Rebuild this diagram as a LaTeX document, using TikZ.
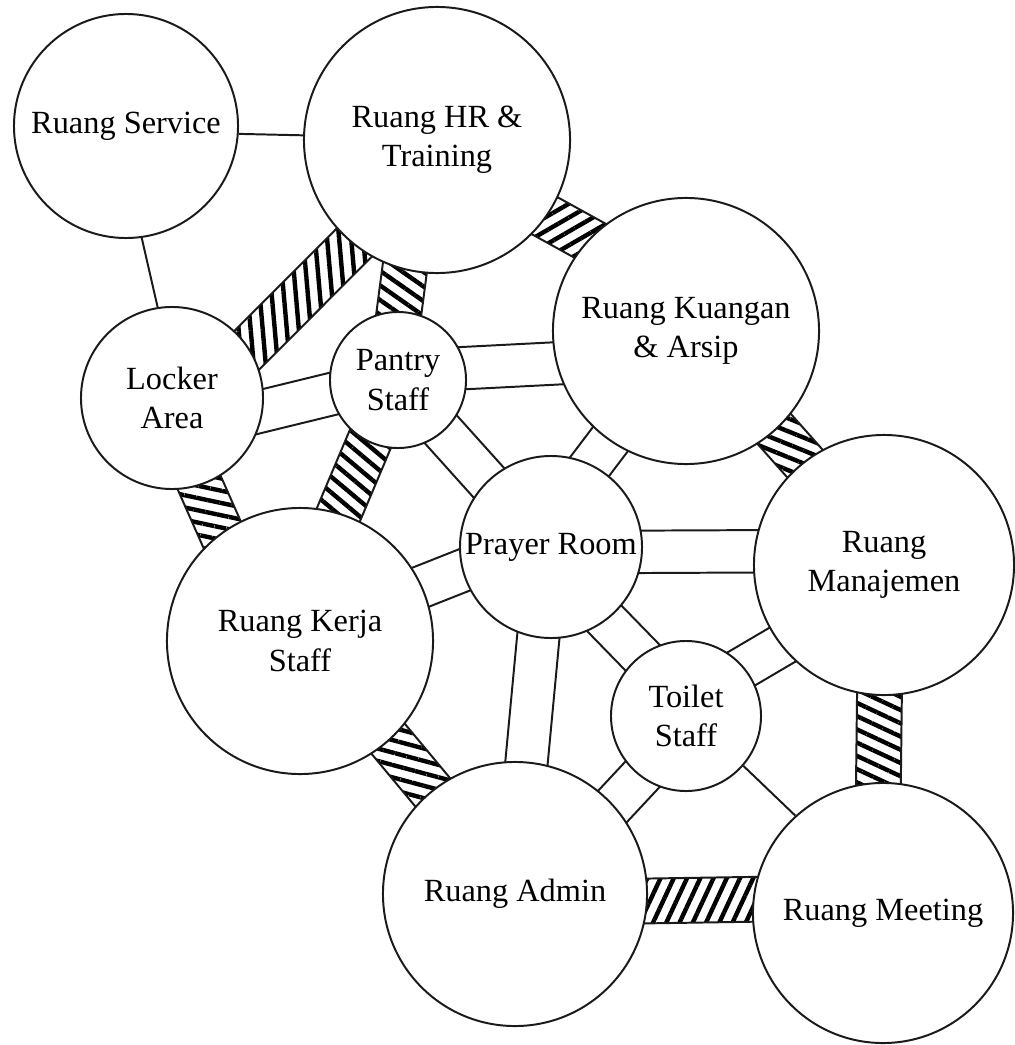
\documentclass[tikz,border=0pt]{standalone}
\usepackage{fontspec}
\setmainfont{Liberation Serif}
\usepackage{tikz}
\usetikzlibrary{calc,backgrounds,patterns.meta}
\definecolor{InkLine}{HTML}{1A1A1A}
\newcommand{\roomfont}{\fontsize{23}{28}\selectfont}
\newcommand{\openband}[2]{%
    \path ($(#1)!-14pt!(#2)$) coordinate (ba) ($(#2)!-14pt!(#1)$) coordinate (bb);
    \draw[bandedge] ($(ba)!0.53cm!90:(bb)$) -- ($(bb)!0.53cm!-90:(ba)$);
    \draw[bandedge] ($(ba)!0.53cm!-90:(bb)$) -- ($(bb)!0.53cm!90:(ba)$);
}
\newcommand{\hatchband}[3]{%
    \path ($(#1)!-14pt!(#2)$) coordinate (ba) ($(#2)!-14pt!(#1)$) coordinate (bb);
    \draw[bandedge, pattern={Lines[angle=#3,distance=0.3cm,line width=0.11cm]}]
        ($(ba)!0.56cm!90:(bb)$) -- ($(bb)!0.56cm!-90:(ba)$) --
        ($(bb)!0.56cm!90:(ba)$) -- ($(ba)!0.56cm!-90:(bb)$) -- cycle;
}

\begin{document}
\begin{tikzpicture}[x=0.025cm, y=-0.025cm,
        room/.style={circle, draw=InkLine, fill=white, line width=1.4pt,
            inner sep=0pt, align=center, font=\roomfont},
        bandedge/.style={draw=InkLine, line width=1.4pt},
        link/.style={draw=InkLine, line width=1.4pt}]
    \useasboundingbox (0,0) rectangle (1014,1045);

    \node[room, minimum size=5.6cm] (svc) at (126,126) {Ruang Service};
    \node[room, minimum size=6.65cm] (hr) at (437,140) {Ruang HR \&\\Training};
    \node[room, minimum size=6.65cm] (kua) at (686,331) {Ruang Kuangan\\\& Arsip};
    \node[room, minimum size=4.55cm] (lok) at (172,398) {Locker\\Area};
    \node[room, minimum size=3.4cm] (pan) at (398,380) {Pantry\\Staff};
    \node[room, minimum size=4.55cm] (pra) at (551,547) {Prayer Room};
    \node[room, minimum size=6.5cm] (man) at (884,565) {Ruang\\Manajemen};
    \node[room, minimum size=6.65cm] (ker) at (300,641) {Ruang Kerja\\Staff};
    \node[room, minimum size=3.75cm] (toi) at (686,716) {Toilet\\Staff};
    \node[room, minimum size=6.6cm] (adm) at (515,894) {Ruang Admin};
    \node[room, minimum size=6.5cm] (mee) at (883,913) {Ruang Meeting};

    \begin{pgfonlayer}{background}
        \draw[link] (svc.356) -- (hr.178);
        \draw[link] (svc.278) -- (lok.99);
        \draw[link] (toi.319) -- (mee.132);

        \openband{lok.352}{pan.192}
        \openband{pan.10}{kua.194}
        \openband{pan.311}{pra.134}
        \openband{pra.64}{kua.235}
        \openband{ker.24}{pra.195}
        \openband{pra.357}{man.174}
        \openband{pra.307}{toi.127}
        \openband{pra.262}{adm.85}
        \openband{toi.40}{man.218}
        \openband{toi.233}{adm.42}

        \hatchband{lok.33}{hr.231}{95}
        \hatchband{pan.89}{hr.256}{145}
        \hatchband{hr.325}{kua.137}{30}
        \hatchband{kua.312}{man.128}{158}
        \hatchband{lok.288}{ker.126}{168}
        \hatchband{pan.245}{ker.73}{140}
        \hatchband{ker.312}{adm.129}{165}
        \hatchband{man.268}{mee.92}{155}
        \hatchband{adm.357}{mee.174}{65}
    \end{pgfonlayer}
\end{tikzpicture}
\end{document}
